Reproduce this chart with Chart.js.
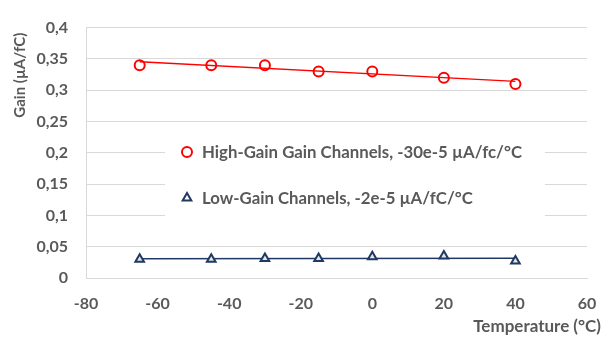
<!DOCTYPE html>
<html>
<head>
<meta charset="utf-8">
<style>
  html, body { margin: 0; padding: 0; background: #ffffff; }
  #wrap { width: 614px; height: 342px; position: relative; }
</style>
<script src="https://cdn.jsdelivr.net/npm/chart.js@4.4.1/dist/chart.umd.min.js"></script>
</head>
<body>
<div id="wrap"><canvas id="chart" width="614" height="342"></canvas></div>
<script>
// Measured temperatures (°C)
const temperatures = [-65, -45, -30, -15, 0, 20, 40];
// Gain per channel group (µA/fC)
const highGain = [0.34, 0.34, 0.34, 0.33, 0.33, 0.32, 0.31];
const lowGain = [0.030, 0.030, 0.031, 0.031, 0.034, 0.035, 0.027];
// Legend texts
const highLabel = 'High-Gain Gain Channels, -30e-5 µA/fc/°C';
const lowLabel = 'Low-Gain Channels, -2e-5 µA/fC/°C';
// Axis titles
const xTitle = 'Temperature (°C)';
const yTitle = 'Gain (µA/fC)';
// Axis ranges
const xRange = [-80, 60, 20];
const yRange = [0, 0.4, 0.05];

const FONT = 'Lato, "Open Sans", sans-serif';
const TEXT = '#595959';
const RED = '#FF0000';
const NAVY = '#203864';

// Least-squares linear trendline over the measured points
function trend(xs, ys) {
  const n = xs.length;
  const mx = xs.reduce((a, b) => a + b, 0) / n;
  const my = ys.reduce((a, b) => a + b, 0) / n;
  let sxy = 0, sxx = 0;
  for (let i = 0; i < n; i++) {
    sxy += (xs[i] - mx) * (ys[i] - my);
    sxx += (xs[i] - mx) * (xs[i] - mx);
  }
  const b = sxy / sxx, a = my - b * mx;
  const x0 = Math.min(...xs), x1 = Math.max(...xs);
  return [{ x: x0, y: a + b * x0 }, { x: x1, y: a + b * x1 }];
}
const pts = (ys) => temperatures.map((t, i) => ({ x: t, y: ys[i] }));

// In-plot legend box and axis titles
const decorations = {
  id: 'decorations',
  beforeDatasetsDraw(chart) {
    const ctx = chart.ctx;
    const items = [
      { text: highLabel, style: 'circle', color: RED, fill: 'rgba(0,0,0,0)', y: 152 },
      { text: lowLabel, style: 'triangle', color: NAVY, fill: '#FFFFFF', y: 198 }
    ];
    ctx.save();
    ctx.fillStyle = '#FFFFFF';
    ctx.fillRect(165, 138, 380, 80);
    ctx.font = 'bold 16.8px ' + FONT;
    ctx.textBaseline = 'middle';
    ctx.textAlign = 'left';
    items.forEach(it => {
      ctx.strokeStyle = it.color;
      ctx.fillStyle = it.fill;
      ctx.lineWidth = 2;
      Chart.helpers.drawPoint(ctx, { pointStyle: it.style, radius: 5, rotation: 0, borderWidth: 2 }, 187, it.y);
      ctx.fillStyle = TEXT;
      ctx.fillText(it.text, 202, it.y + 1);
    });
    ctx.restore();
  },
  afterDraw(chart) {
    const ctx = chart.ctx;
    const area = chart.chartArea;
    ctx.save();
    ctx.fillStyle = TEXT;
    ctx.font = 'bold 17px ' + FONT;
    ctx.textAlign = 'right';
    ctx.textBaseline = 'middle';
    ctx.fillText(xTitle, area.right + 14, 327);
    ctx.font = 'bold 15px ' + FONT;
    ctx.translate(20, area.top + 5);
    ctx.rotate(-Math.PI / 2);
    ctx.textAlign = 'right';
    ctx.fillText(yTitle, 0, 0);
    ctx.restore();
  }
};

new Chart(document.getElementById('chart'), {
  type: 'scatter',
  data: {
    datasets: [
      {
        label: highLabel,
        data: pts(highGain),
        pointStyle: 'circle',
        pointRadius: 5,
        pointBorderWidth: 2,
        borderColor: RED,
        backgroundColor: 'rgba(0,0,0,0)',
        showLine: false,
        order: 1
      },
      {
        label: lowLabel,
        data: pts(lowGain),
        pointStyle: 'triangle',
        pointRadius: 5,
        pointBorderWidth: 2,
        borderColor: NAVY,
        backgroundColor: '#E4E4E4',
        showLine: false,
        order: 1
      },
      {
        label: 'high trend',
        data: trend(temperatures, highGain),
        showLine: true,
        borderColor: RED,
        borderWidth: 1.5,
        pointRadius: 0,
        order: 2
      },
      {
        label: 'low trend',
        data: trend(temperatures, lowGain),
        showLine: true,
        borderColor: NAVY,
        borderWidth: 1.5,
        pointRadius: 0,
        order: 2
      }
    ]
  },
  options: {
    responsive: false,
    animation: false,
    events: [],
    layout: { padding: { top: 15, right: 27, left: 0, bottom: 0 } },
    plugins: { legend: { display: false }, tooltip: { enabled: false } },
    scales: {
      x: {
        type: 'linear',
        min: xRange[0], max: xRange[1],
        afterFit(scale) { scale.height = 64; },
        grid: { display: false, drawTicks: false },
        border: { display: true, color: '#D9D9D9', width: 1 },
        ticks: {
          stepSize: xRange[2],
          padding: 16,
          color: TEXT,
          font: { family: FONT, size: 16, weight: 'bold' },
          maxRotation: 0
        }
      },
      y: {
        min: yRange[0], max: yRange[1],
        afterFit(scale) { scale.width = 86; },
        grid: { color: '#D9D9D9', lineWidth: 1, drawTicks: false },
        border: { display: true, color: '#D9D9D9', width: 1 },
        ticks: {
          stepSize: yRange[2],
          padding: 18,
          color: TEXT,
          font: { family: FONT, size: 16, weight: 'bold' },
          callback: v => String(Math.round(v * 100) / 100).replace('.', ',')
        }
      }
    }
  },
  plugins: [decorations]
});
</script>
</body>
</html>
